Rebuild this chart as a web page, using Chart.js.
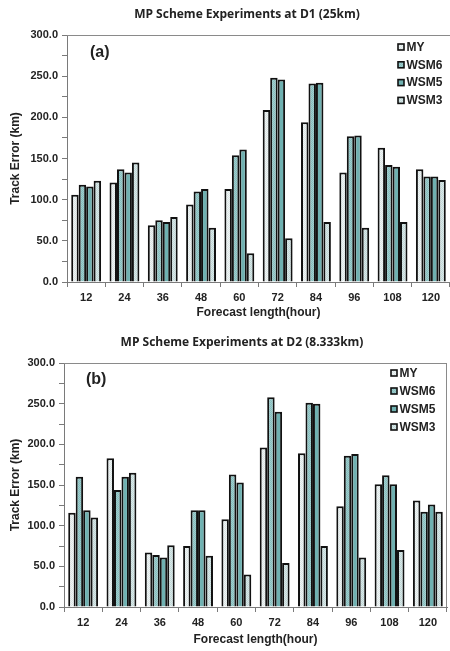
<!DOCTYPE html>
<html>
<head>
<meta charset="utf-8">
<script src="https://cdn.jsdelivr.net/npm/chart.js@4.4.0/dist/chart.umd.min.js"></script>
<style>
html, body { margin: 0; padding: 0; background: #fff; }
canvas { display: block; }
</style>
</head>
<body>
<canvas id="chartA" width="450" height="324"></canvas>
<canvas id="chartB" width="450" height="327"></canvas>
<script>
// forecast lengths (hour)
hours = ['12', '24', '36', '48', '60', '72', '84', '96', '108', '120'];
schemes = ['MY', 'WSM6', 'WSM5', 'WSM3'];
y_ticks = [0, 50, 100, 150, 200, 250, 300];

// D1 (25km) track error, km
d1_my   = [106, 121, 69, 94, 113, 209, 194, 133, 163, 137];
d1_wsm6 = [118, 137, 75, 110, 154, 248, 241, 177, 142, 128];
d1_wsm5 = [116, 133, 73, 113, 161, 246, 242, 178, 140, 128];
d1_wsm3 = [123, 145, 79, 66, 35, 53, 73, 66, 73, 124];

// D2 (8.333km) track error, km
d2_my   = [116, 183, 67, 75, 108, 196, 189, 124, 151, 131];
d2_wsm6 = [160, 144, 64, 119, 163, 258, 251, 186, 162, 117];
d2_wsm5 = [119, 160, 61, 119, 153, 240, 250, 188, 151, 126];
d2_wsm3 = [110, 165, 76, 63, 40, 54, 75, 61, 70, 117];

var FONT = '"Liberation Sans", Arial, sans-serif';

function dotted(base, dot) {
    var c = document.createElement('canvas');
    c.width = 2; c.height = 2;
    var g = c.getContext('2d');
    g.fillStyle = base; g.fillRect(0, 0, 2, 2);
    g.fillStyle = dot; g.fillRect(0, 0, 1, 1); g.fillRect(1, 1, 1, 1);
    return g.createPattern(c, 'repeat');
}

var fills = [
    dotted('#eef4f4', '#dce5e5'),
    dotted('#9fcdcd', '#86bdbd'),
    '#6fb1b1',
    dotted('#d8e8e8', '#c2d7d7')
];

// draws title, panel tag, boxed legend and frame lines
var decor = {
    id: 'decor',
    afterDraw: function (chart, args, o) {
        var ctx = chart.ctx, a = chart.chartArea;
        ctx.save();
        ctx.fillStyle = '#222';
        ctx.font = 'bold 12px "Open Sans", sans-serif';
        ctx.textAlign = 'center';
        ctx.textBaseline = 'middle';
        ctx.fillText(o.title, o.titleX, o.titleY);

        ctx.font = 'bold 16px ' + FONT;
        ctx.textAlign = 'left';
        ctx.fillText(o.tag, o.tagX, o.tagY);

        ctx.strokeStyle = '#8a8a8a';
        ctx.lineWidth = 1;
        ctx.beginPath();
        ctx.moveTo(a.left, a.top + 0.5);
        ctx.lineTo(a.right, a.top + 0.5);
        if (o.rightBorder) {
            ctx.moveTo(a.right - 0.5, a.top);
            ctx.lineTo(a.right - 0.5, a.bottom);
        }
        ctx.stroke();

        ctx.font = 'bold 12px ' + FONT;
        chart.data.datasets.forEach(function (ds, i) {
            var y = o.legY + i * o.legStep;
            ctx.fillStyle = ds.backgroundColor;
            ctx.fillRect(o.legX, y - 3, 6, 6);
            ctx.strokeStyle = '#111';
            ctx.lineWidth = 1.6;
            ctx.strokeRect(o.legX, y - 3, 6, 6);
            ctx.fillStyle = '#222';
            ctx.fillText(ds.label, o.legX + 8.5, y + 0.5);
        });
        ctx.restore();
    }
};

function makeChart(id, rows, opt) {
    new Chart(document.getElementById(id), {
        type: 'bar',
        data: {
            labels: hours,
            datasets: rows.map(function (r, i) {
                return {
                    label: schemes[i],
                    data: r,
                    backgroundColor: fills[i],
                    borderColor: '#111',
                    borderWidth: 2,
                    borderSkipped: 'bottom',
                    barPercentage: 1,
                    categoryPercentage: 0.78
                };
            })
        },
        options: {
            responsive: false,
            animation: false,
            layout: { padding: { top: opt.top, right: opt.right, left: 0, bottom: 0 } },
            plugins: {
                legend: { display: false },
                tooltip: { enabled: false },
                decor: opt.decor
            },
            scales: {
                x: {
                    afterFit: function (s) { s.height = opt.xh; },
                    grid: { offset: true, drawOnChartArea: false, tickLength: 5, color: '#7a7a7a' },
                    border: { color: '#7a7a7a' },
                    ticks: { font: { family: FONT, size: 11, weight: 'bold' }, color: '#222', padding: 4 },
                    title: { display: true, text: 'Forecast length(hour)', color: '#222',
                             font: { family: FONT, size: 12, weight: 'bold' }, padding: { top: 2, bottom: 4 } }
                },
                y: {
                    min: 0, max: 300,
                    afterFit: function (s) { s.width = opt.yw; },
                    afterBuildTicks: function (s) {
                        var t = [];
                        y_ticks.forEach(function (v, i) {
                            t.push({ value: v });
                            if (i < y_ticks.length - 1) t.push({ value: v + 25 });
                        });
                        s.ticks = t;
                    },
                    grid: { drawOnChartArea: false, tickLength: 5, color: '#7a7a7a' },
                    border: { color: '#7a7a7a' },
                    ticks: {
                        autoSkip: false,
                        padding: 4,
                        color: '#222',
                        font: { family: FONT, size: 11, weight: 'bold' },
                        callback: function (v) { return y_ticks.indexOf(v) >= 0 ? v.toFixed(1) : ''; }
                    },
                    title: { display: true, text: 'Track Error (km)', color: '#222',
                             font: { family: FONT, size: 12, weight: 'bold' }, padding: { top: 8, bottom: 0 } }
                }
            }
        },
        plugins: [decor]
    });
}

makeChart('chartA', [d1_my, d1_wsm6, d1_wsm5, d1_wsm3], {
    top: 35, right: 0, xh: 42, yw: 67,
    decor: { title: 'MP Scheme Experiments at D1 (25km)', titleX: 247, titleY: 15,
             tag: '(a)', tagX: 90, tagY: 53, rightBorder: false,
             legX: 398, legY: 47, legStep: 17.8 }
});

makeChart('chartB', [d2_my, d2_wsm6, d2_wsm5, d2_wsm3], {
    top: 39, right: 3, xh: 44, yw: 64,
    decor: { title: 'MP Scheme Experiments at D2 (8.333km)', titleX: 242, titleY: 19,
             tag: '(b)', tagX: 86, tagY: 56, rightBorder: true,
             legX: 391, legY: 49, legStep: 18 }
});
</script>
</body>
</html>
